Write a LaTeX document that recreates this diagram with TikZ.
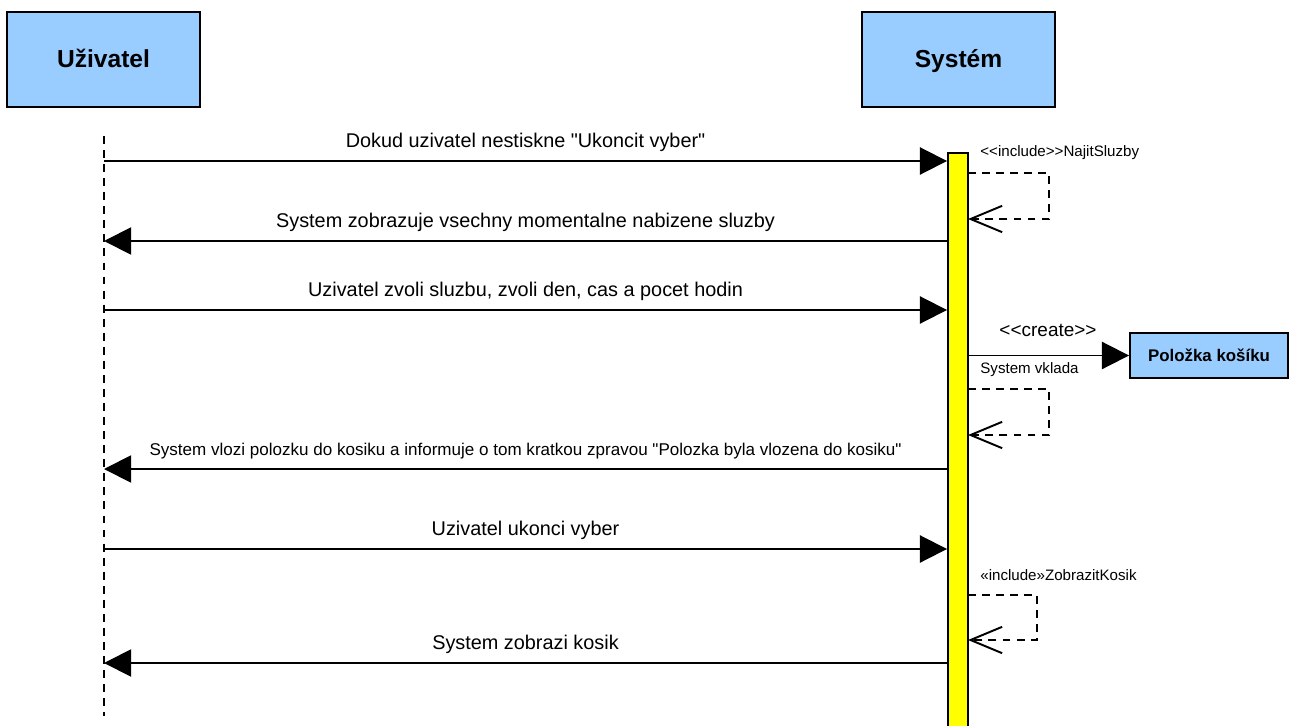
\documentclass[tikz,border=0pt]{standalone}
\usepackage{fontspec}
\newfontfamily\arialfont{Liberation Sans}
\usetikzlibrary{arrows.meta}
\definecolor{actorblue}{RGB}{153,204,255}
\definecolor{actyellow}{RGB}{255,255,0}
\newcommand{\msgwidth}{1.1pt}
\newcommand{\tipsize}{15.5pt}

\begin{document}
\begin{tikzpicture}[x=0.02cm,y=-0.02cm,
  actor/.style={draw,line width=1.1pt,fill=actorblue,minimum width=3.86cm,minimum height=1.9cm,text height=2.1ex,text depth=0pt,font=\arialfont\bfseries\fontsize{14}{16}\selectfont},
  objbox/.style={draw,line width=1.1pt,fill=actorblue,minimum width=3.16cm,minimum height=0.9cm,font=\arialfont\bfseries\fontsize{9.6}{11}\selectfont},
  actbar/.style={draw,line width=1.1pt,fill=actyellow,minimum width=0.4cm,minimum height=11.7cm,inner sep=0pt},
  life/.style={line width=\msgwidth,dash pattern=on 4.5pt off 3.5pt},
  msg/.style={line width=\msgwidth,-{Triangle[length=\tipsize,width=\tipsize]}},
  self/.style={line width=\msgwidth,dash pattern=on 4.5pt off 3.5pt,-{Straight Barb[length=18pt,width=15pt,line width=\msgwidth]}},
  lbl/.style={font=\arialfont\fontsize{11.3}{13}\selectfont,above,inner sep=0pt,yshift=5pt},
  small/.style={font=\arialfont\fontsize{8.6}{10}\selectfont,inner sep=0pt,anchor=west}]
\useasboundingbox (0,0) rectangle (1290,726);
\node[actor] (usr) at (103.5,59.5) {Uživatel};
\node[actor] (sys) at (958.5,59.5) {Systém};
\node[actbar] (bar) at (958,445) {};
\node[objbox] (pol) at (1209,355.5) {Položka košíku};
%lifeline
\coordinate (lt) at (104,136);
\coordinate (lb) at (104,716);
\draw[life] (lt) -- (lb);
%messages
\coordinate (m1) at (104,161);
\coordinate (m2) at (104,241);
\coordinate (m3) at (104,310);
\coordinate (m4) at (104,469);
\coordinate (m5) at (104,549);
\coordinate (m6) at (104,663);
\draw[msg] (m1) -- (m1 -| bar.west) node[lbl,midway] {Dokud uzivatel nestiskne "Ukoncit vyber"};
\draw[msg] (m2 -| bar.west) -- (m2) node[lbl,midway] {System zobrazuje vsechny momentalne nabizene sluzby};
\draw[msg] (m3) -- (m3 -| bar.west) node[lbl,midway] {Uzivatel zvoli sluzbu, zvoli den, cas a pocet hodin};
\draw[msg] (m4 -| bar.west) -- (m4) node[lbl,midway,font=\arialfont\fontsize{9.7}{11}\selectfont] {System vlozi polozku do kosiku a informuje o tom kratkou zpravou "Polozka byla vlozena do kosiku"};
\draw[msg] (m5) -- (m5 -| bar.west) node[lbl,midway] {Uzivatel ukonci vyber};
\draw[msg] (m6 -| bar.west) -- (m6) node[lbl,midway] {System zobrazi kosik};
%self calls
\coordinate (s1a) at (968,173);
\coordinate (s1b) at (1049,173);
\coordinate (s1c) at (1049,219);
\coordinate (s1d) at (968,219);
\draw[self] (s1a) -- (s1b) -- (s1c) -- (s1d);
\node[small] (inc1) at (980,153) {<<include>>NajitSluzby};
\coordinate (s2a) at (968,389);
\coordinate (s2b) at (1049,389);
\coordinate (s2c) at (1049,435);
\coordinate (s2d) at (968,435);
\draw[self] (s2a) -- (s2b) -- (s2c) -- (s2d);
\coordinate (s3a) at (968,595);
\coordinate (s3b) at (1037,595);
\coordinate (s3c) at (1037,640);
\coordinate (s3d) at (968,640);
\draw[self] (s3a) -- (s3b) -- (s3c) -- (s3d);
\node[small] (inc2) at (980,575) {«include»ZobrazitKosik};
%create
\draw[msg] (bar.east |- pol.west) -- (pol.west);
\node[font=\arialfont\fontsize{10.8}{12}\selectfont,inner sep=0pt] (cre) at (1048,330) {<<create>>};
\node[small] (vkl) at (980,370) {System vklada};
\end{tikzpicture}
\end{document}
